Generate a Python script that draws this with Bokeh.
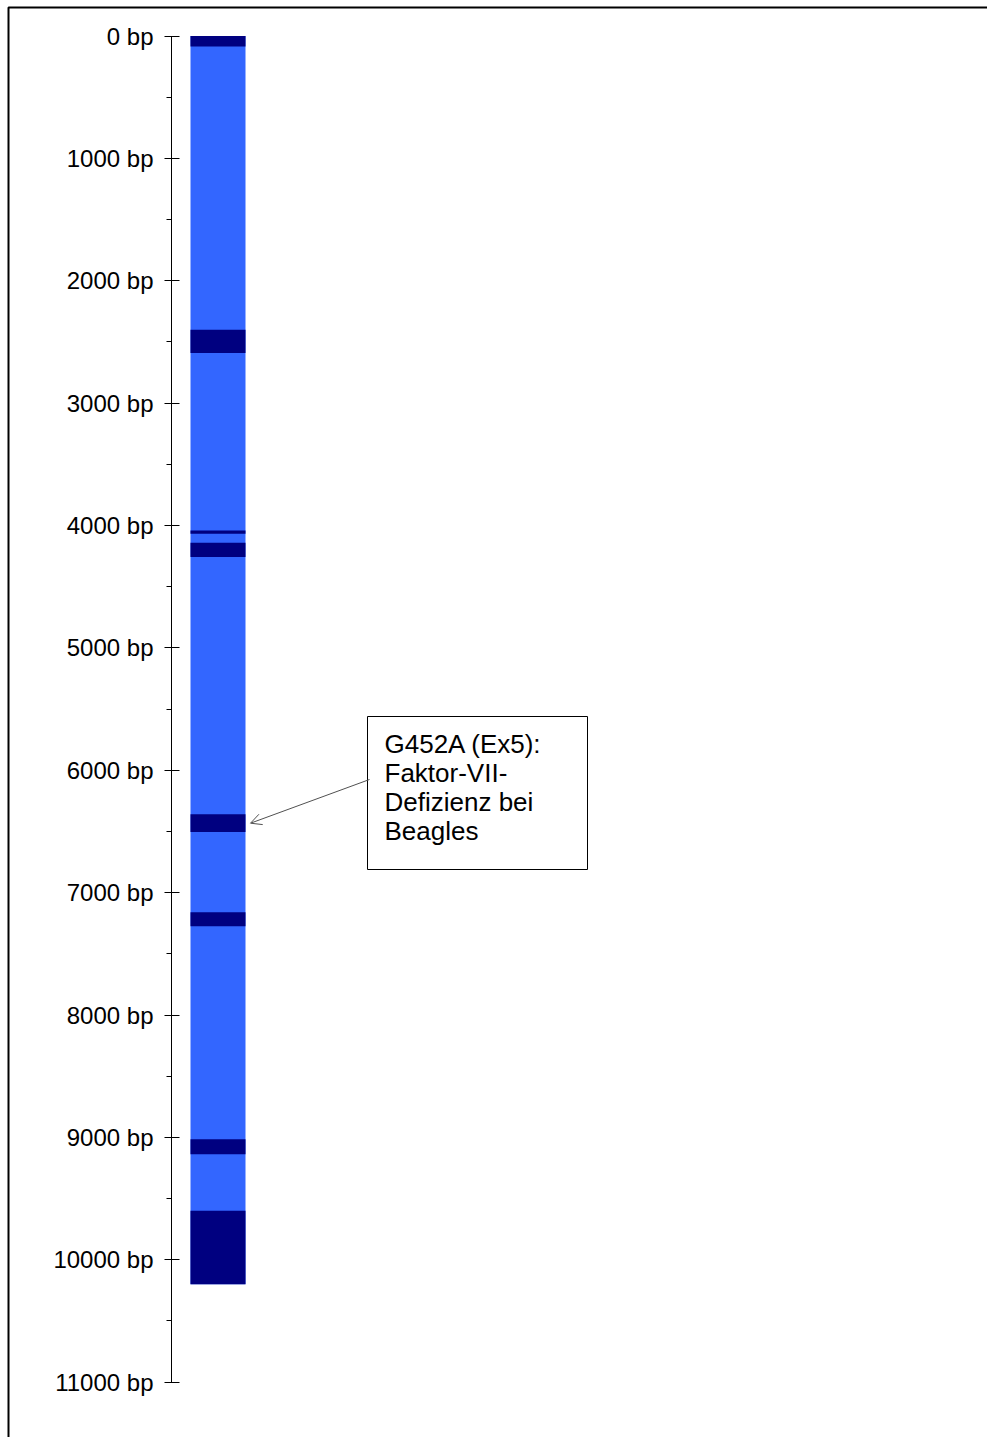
from bokeh.plotting import figure
from bokeh.models import (Range1d, LinearAxis, FixedTicker, PrintfTickFormatter,
                          Arrow, OpenHead, ColumnDataSource)
from bokeh.core.properties import value
from bokeh.embed import file_html
from bokeh.resources import INLINE

# Gene structure (positions in bp)
gene_length = 10200
exon_starts = [0, 2400, 4040, 4140, 6360, 7160, 9015, 9600]
exon_ends = [85, 2590, 4068, 4258, 6505, 7275, 9137, 10200]

# Axis ticks
tick_positions = list(range(0, 11001, 1000))
minor_tick_positions = list(range(500, 11000, 1000))

# Mutation annotation (points at exon 5)
mutation_exon_index = 4
annotation_lines = ["G452A (Ex5):", "Faktor-VII-", "Defizienz bei", "Beagles"]

# ---- layout -------------------------------------------------------------
W, H = 987, 1437
ZERO_PX = 35.5          # screen row of 0 bp
PX_PER_BP = 0.12238     # vertical scale


def px_to_bp(py):
    return (py - ZERO_PX) / PX_PER_BP


GENE_LEFT, GENE_RIGHT = 190, 245
AXIS_X = 171
INTRON_COLOR = "#3366FF"
EXON_COLOR = "#000080"
FONT = "Liberation Sans"

p = figure(width=W, height=H, output_backend="svg", toolbar_location=None,
           x_range=Range1d(0, W),
           y_range=Range1d(px_to_bp(H), px_to_bp(0)),
           x_axis_location=None, y_axis_location=None,
           min_border=0, outline_line_color=None,
           background_fill_color="white", border_fill_color="white")
p.xgrid.visible = False
p.ygrid.visible = False

# outer frame
p.quad(left=8, right=W + 20, top=px_to_bp(7), bottom=px_to_bp(H + 20),
       fill_color=None, line_color="black", line_width=2)

# whole gene (introns)
p.quad(left=GENE_LEFT, right=GENE_RIGHT, top=0, bottom=gene_length,
       fill_color=INTRON_COLOR, line_color=None)

# exons
exons = ColumnDataSource(dict(start=exon_starts, end=exon_ends))
p.quad(left=GENE_LEFT, right=GENE_RIGHT, top="start", bottom="end",
       source=exons, fill_color=EXON_COLOR, line_color=None)

# bp axis
axis = LinearAxis(
    fixed_location=AXIS_X,
    ticker=FixedTicker(ticks=tick_positions, minor_ticks=minor_tick_positions),
    formatter=PrintfTickFormatter(format="%d bp"),
    bounds=(0, 11000),
    axis_line_color="black", axis_line_width=1,
    major_tick_line_color="black", major_tick_in=8, major_tick_out=7,
    minor_tick_line_color="black", minor_tick_in=0, minor_tick_out=5,
    major_label_standoff=11,
    major_label_text_font=FONT, major_label_text_font_size="24px",
    major_label_text_color="black",
)
p.add_layout(axis, "left")

# annotation box and text
BOX_L, BOX_R, BOX_T, BOX_B = 367, 587, 716, 869
p.quad(left=BOX_L, right=BOX_R, top=px_to_bp(BOX_T), bottom=px_to_bp(BOX_B),
       fill_color="white", line_color="black", line_width=1)

line_ys = [px_to_bp(BOX_T + 27 + 29 * i) for i in range(len(annotation_lines))]
p.text(x=[BOX_L + 17] * len(annotation_lines), y=line_ys, text=annotation_lines,
       text_font=value(FONT), text_font_size="26px", text_color="black",
       text_align="left", text_baseline="middle")

target_bp = (exon_starts[mutation_exon_index] + exon_ends[mutation_exon_index]) / 2
p.add_layout(Arrow(x_start=BOX_L + 2, y_start=px_to_bp(779),
                   x_end=GENE_RIGHT + 5, y_end=target_bp,
                   line_color="#505050", line_width=1,
                   end=OpenHead(size=11, line_color="#505050", line_width=1)))

open("out.html", "w").write(file_html(p, INLINE))
